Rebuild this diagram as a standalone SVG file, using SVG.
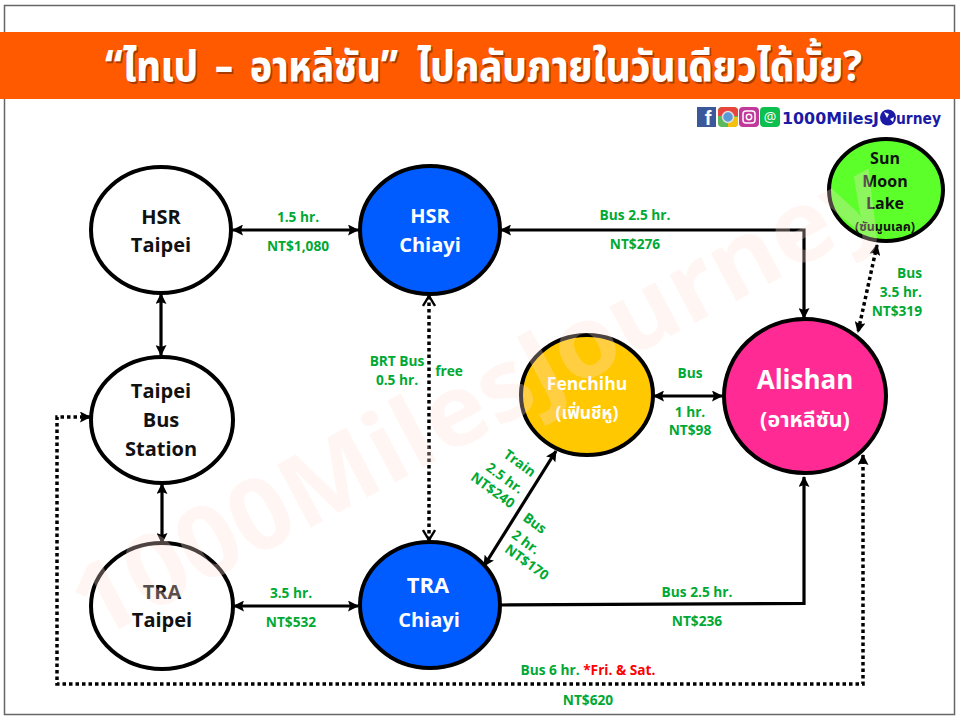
<svg xmlns="http://www.w3.org/2000/svg" width="960" height="720" viewBox="0 0 960 720">
<style>
text{font-family:"Open Sans","Noto Sans",sans-serif;font-weight:700;text-anchor:middle}
.n{fill:#fff;stroke:#000;stroke-width:4}
.k{fill:#111;font-size:20px}
.w{fill:#fff;font-size:20px}
.g{fill:#00a933;font-size:13.7px}
.e{text-anchor:end}
.c{fill:none;stroke:#000;stroke-width:3.2}
.d{fill:none;stroke:#000;stroke-width:3.5;stroke-dasharray:3.5 3}
.t{font-family:"Noto Sans Thai","Noto Sans","Open Sans",sans-serif;font-size:42px;text-anchor:start;font-weight:800}
.s{fill:#a83a00}
.th{font-family:"Noto Sans Thai","Noto Sans",sans-serif}
</style>
<defs>
<marker id="a" viewBox="0 0 11 11" refX="10" refY="5.500" markerWidth="11" markerHeight="11" markerUnits="userSpaceOnUse" orient="auto-start-reverse"><path d="M0 0L11 5.500L0 11L2 5.500z" fill="#000"/></marker>
<marker id="o" viewBox="0 0 12 14" refX="11" refY="7" markerWidth="12" markerHeight="14" markerUnits="userSpaceOnUse" orient="auto-start-reverse"><path d="M1 1L11 7L1 13" fill="none" stroke="#000" stroke-width="2.4"/></marker>
</defs>
<rect width="960" height="720" fill="#fff"/>
<rect x="4.500" y="5.500" width="950" height="709" fill="none" stroke="#666" stroke-width="1.500"/>

<g id="title">
<rect x="0" y="32" width="960" height="67" fill="#ff5a00"/>
<g class="s" transform="translate(1.500 1.500)">
<text class="t" x="105" y="81" textLength="93" lengthAdjust="spacingAndGlyphs">“ไทเป</text>
<text class="t" x="215" y="81" textLength="18" lengthAdjust="spacingAndGlyphs">–</text>
<text class="t" x="250" y="81" textLength="148" lengthAdjust="spacingAndGlyphs">อาหลีซัน”</text>
<text class="t" x="417" y="81" textLength="445" lengthAdjust="spacingAndGlyphs">ไปกลับภายในวันเดียวได้มั้ย?</text>
</g>
<g fill="#fff">
<text class="t" x="105" y="81" textLength="93" lengthAdjust="spacingAndGlyphs">“ไทเป</text>
<text class="t" x="215" y="81" textLength="18" lengthAdjust="spacingAndGlyphs">–</text>
<text class="t" x="250" y="81" textLength="148" lengthAdjust="spacingAndGlyphs">อาหลีซัน”</text>
<text class="t" x="417" y="81" textLength="445" lengthAdjust="spacingAndGlyphs">ไปกลับภายในวันเดียวได้มั้ย?</text>
</g>
</g>

<g id="brand">
<rect x="697" y="107" width="19" height="20" fill="#3b5998"/>
<text x="708" y="125" fill="#fff" style="font-size:20px;font-family:'Liberation Sans',sans-serif">f</text>
<rect x="718" y="107" width="20" height="20" rx="4" fill="#5cb85c"/>
<path d="M718 112a4 4 0 0 1 4-5h12a4 4 0 0 1 4 5v4h-20z" fill="#e8453c"/>
<path d="M728 117h10v6a4 4 0 0 1-4 4h-6z" fill="#f4c20d"/>
<circle cx="728" cy="117" r="5.500" fill="#5b9bd5" stroke="#ddd" stroke-width="1.500"/>
<rect x="739" y="107" width="20" height="20" rx="4" fill="#c0399b"/>
<rect x="743" y="111" width="12" height="12" rx="3" fill="none" stroke="#fff" stroke-width="1.500"/>
<circle cx="749" cy="117" r="2.700" fill="none" stroke="#fff" stroke-width="1.500"/>
<rect x="760" y="107" width="20" height="20" rx="4" fill="#0dbf4f"/>
<text x="770" y="122" fill="#fff" style="font-size:14px;font-weight:400">@</text>
<text x="782" y="124" fill="#1a1aa6" style="text-anchor:start;font-size:15px;font-family:'DejaVu Sans',sans-serif" textLength="97" lengthAdjust="spacingAndGlyphs">1000MilesJ</text>
<circle cx="888" cy="117.500" r="8" fill="#1a1aa6"/>
<path d="M884 112l5 2-2 4zM890 119l4-2-1 5z" fill="#fff"/>
<text x="896" y="124" fill="#1a1aa6" style="text-anchor:start;font-size:15px;font-family:'DejaVu Sans',sans-serif" textLength="45" lengthAdjust="spacingAndGlyphs">urney</text>
</g>

<g id="connectors">
<path class="c" d="M233 230H358" marker-start="url(#a)" marker-end="url(#a)"/>
<path class="c" d="M161 294V355" marker-start="url(#a)" marker-end="url(#a)"/>
<path class="c" d="M162 484V543" marker-start="url(#a)" marker-end="url(#a)"/>
<path class="c" d="M234 606H358" marker-start="url(#a)" marker-end="url(#a)"/>
<path class="d" d="M429 296V540" marker-start="url(#o)" marker-end="url(#o)"/>
<path class="c" d="M501 230H804V318" marker-start="url(#a)" marker-end="url(#a)"/>
<path class="c" d="M501 605L804 603.500V477" marker-end="url(#a)"/>
<path class="c" d="M484 566L556 451" marker-start="url(#a)" marker-end="url(#a)"/>
<path class="c" d="M654 396H722" marker-start="url(#a)" marker-end="url(#a)"/>
<path class="d" d="M877 245L858 332" marker-start="url(#a)" marker-end="url(#a)"/>
<path class="d" d="M90 417H57V684H863V455" marker-start="url(#a)" marker-end="url(#a)"/>
</g>

<g id="hsr-taipei"><ellipse class="n" cx="161" cy="230" rx="70" ry="63"/><text class="k" x="161" y="224">HSR</text><text class="k" x="161" y="252">Taipei</text></g>
<g id="hsr-chiayi"><ellipse class="n" style="fill:#005cff" cx="430" cy="230" rx="70" ry="64"/><text class="w" x="430" y="223">HSR</text><text class="w" x="430" y="252">Chiayi</text></g>
<g id="taipei-bus"><ellipse class="n" cx="162" cy="420" rx="71" ry="63"/><text class="k" x="161" y="398">Taipei</text><text class="k" x="161" y="427">Bus</text><text class="k" x="161" y="456">Station</text></g>
<g id="tra-taipei"><ellipse class="n" cx="162" cy="606" rx="71" ry="63"/><text class="k" x="162" y="599">TRA</text><text class="k" x="162" y="627">Taipei</text></g>
<g id="tra-chiayi"><ellipse class="n" style="fill:#005cff" cx="430" cy="605" rx="70" ry="63"/><text class="w" x="428" y="593" style="font-size:22px">TRA</text><text class="w" x="429" y="627">Chiayi</text></g>
<g id="fenchihu"><ellipse class="n" style="fill:#ffc800" cx="587" cy="395" rx="66" ry="60"/><text class="w" x="587" y="390" style="font-size:17.5px">Fenchihu</text><text class="w th" x="587" y="419" style="font-size:17.5px">(เฟิ่นชีหู)</text></g>
<g id="alishan"><ellipse class="n" style="fill:#ff2a93" cx="805" cy="396" rx="81" ry="77"/><text class="w" x="805" y="389" style="font-size:26px">Alishan</text><text class="w th" x="805" y="427" style="font-size:21.5px">(อาหลีซัน)</text></g>
<g id="sun-moon-lake"><ellipse class="n" style="fill:#5cff2a" cx="886" cy="190" rx="57" ry="51"/><text class="k" x="885" y="164" style="font-size:16px">Sun</text><text class="k" x="885" y="187" style="font-size:16px">Moon</text><text class="k" x="885" y="209" style="font-size:16px">Lake</text><text class="k th" x="885" y="231" style="font-size:12.5px">(ซันมูนเลค)</text></g>

<g id="labels">
<text class="g" x="298" y="222">1.5 hr.</text><text class="g" x="298" y="251">NT$1,080</text>
<text class="g" x="635" y="220">Bus 2.5 hr.</text><text class="g" x="635" y="249">NT$276</text>
<text class="g" x="397" y="366">BRT Bus</text><text class="g" x="397" y="385">0.5 hr.</text><text class="g" x="449" y="376">free</text>
<text class="g" x="690" y="378">Bus</text><text class="g" x="690" y="417">1 hr.</text><text class="g" x="690" y="435">NT$98</text>
<text class="g e" x="922" y="278">Bus</text><text class="g e" x="922" y="297">3.5 hr.</text><text class="g e" x="922" y="316">NT$319</text>
<text class="g" x="291" y="598">3.5 hr.</text><text class="g" x="291" y="627">NT$532</text>
<text class="g" x="697" y="597">Bus 2.5 hr.</text><text class="g" x="697" y="626">NT$236</text>
<text class="g" x="588" y="675">Bus 6 hr. <tspan fill="#f00">*Fri. &amp; Sat.</tspan></text><text class="g" x="588" y="705">NT$620</text>
<text class="g" transform="translate(517 467) rotate(36)">Train</text>
<text class="g" transform="translate(502 482) rotate(36)">2.5 hr.</text>
<text class="g" transform="translate(490 494) rotate(36)">NT$240</text>
<text class="g" transform="translate(532 527) rotate(36)">Bus</text>
<text class="g" transform="translate(523 546) rotate(36)">2 hr.</text>
<text class="g" transform="translate(524 566) rotate(36)">NT$170</text>
</g>

<text id="watermark" transform="translate(95 642) rotate(-28)" x="0" y="0" fill="#ffe0d8" fill-opacity=".3" style="text-anchor:start;font-size:100px" textLength="905" lengthAdjust="spacingAndGlyphs">1000MilesJourney</text>
</svg>
